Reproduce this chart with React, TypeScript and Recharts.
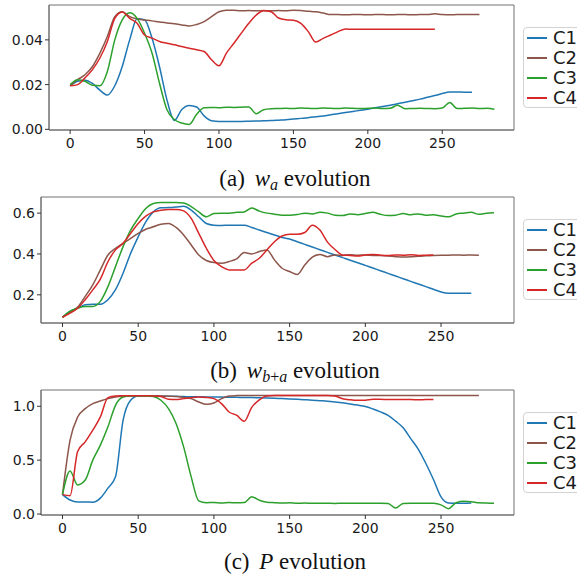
import { LineChart, Line, XAxis, YAxis, ReferenceArea } from 'recharts';

// shared x positions (iteration), every 5 steps
const steps = [
  0, 5, 10, 15, 20, 25, 30, 35, 40, 45, 50, 55, 60, 65, 70, 75, 80, 85, 90, 95,
  100, 105, 110, 115, 120, 125, 130, 135, 140, 145, 150, 155, 160, 165, 170, 175, 180, 185, 190, 195,
  200, 205, 210, 215, 220, 225, 230, 235, 240, 245, 250, 255, 260, 265, 270, 275, 280, 285,
];

const seriesNames = ['C1', 'C2', 'C3', 'C4'];
const seriesColors = ['#1f77b4', '#8c564b', '#2ca02c', '#d62728'];
const xTicks = [0, 50, 100, 150, 200, 250];

// (a) w_a
const waC1 = [
  0.0195, 0.0215, 0.022, 0.0205, 0.0175, 0.0153, 0.0195, 0.0281, 0.04, 0.0495, 0.049, 0.0408, 0.0281, 0.0133, 0.004, 0.0089, 0.0107, 0.01, 0.006, 0.0038,
  0.0035, 0.0035, 0.0035, 0.0035, 0.0036, 0.0037, 0.0038, 0.0039, 0.0041, 0.0043,
  0.0046, 0.0049, 0.0052, 0.0056, 0.006, 0.0065, 0.007, 0.0075, 0.008, 0.0085,
  0.009, 0.0096, 0.0102, 0.0108, 0.0114, 0.0121, 0.0128, 0.0135, 0.0143, 0.0151,
  0.016, 0.0167, 0.0167, 0.0166, 0.0166, null, null, null,
];
const waC2 = [
  0.0195, 0.0222, 0.0244, 0.0281, 0.0341, 0.0415, 0.0504, 0.0526, 0.0504, 0.0493, 0.0489, 0.0485, 0.048, 0.0476, 0.0472, 0.0467, 0.0462, 0.0469, 0.0482, 0.0504,
  0.0526, 0.0533, 0.0532, 0.053, 0.0531, 0.053, 0.0531, 0.053, 0.0531, 0.053,
  0.0532, 0.0531, 0.0528, 0.0526, 0.052, 0.0513, 0.0513, 0.0512, 0.0513, 0.0513,
  0.0512, 0.0513, 0.0513, 0.0512, 0.0513, 0.0513, 0.0512, 0.0513, 0.0513, 0.0517,
  0.0513, 0.0512, 0.0513, 0.0513, 0.0513, 0.0513, null, null,
];
const waC3 = [
  0.02, 0.0222, 0.0215, 0.0197, 0.0195, 0.0259, 0.04, 0.0489, 0.0521, 0.0496, 0.043, 0.0341, 0.0207, 0.0089, 0.0044, 0.0028, 0.0022, 0.0067, 0.0096, 0.0098,
  0.0097, 0.0099, 0.0098, 0.0099, 0.01, 0.007, 0.0088, 0.0092, 0.0093, 0.0094,
  0.0093, 0.0095, 0.0094, 0.0093, 0.0095, 0.0094, 0.0093, 0.0095, 0.0094, 0.0093,
  0.0094, 0.0095, 0.0093, 0.0094, 0.0108, 0.0092, 0.0093, 0.0094, 0.0093, 0.0092,
  0.0095, 0.012, 0.0093, 0.0094, 0.0095, 0.0093, 0.0094, 0.009,
];
const waC4 = [
  0.0195, 0.02, 0.023, 0.0267, 0.0319, 0.0393, 0.0496, 0.0525, 0.0496, 0.0474, 0.0422, 0.0408, 0.0393, 0.0385, 0.0378, 0.037, 0.0363, 0.0356, 0.0348, 0.0311,
  0.0284, 0.0341, 0.0385, 0.043, 0.0474, 0.0511, 0.053, 0.0526, 0.0498, 0.049,
  0.0488, 0.0474, 0.0437, 0.039, 0.0407, 0.0422, 0.0437, 0.0449, 0.0447, 0.0448,
  0.0447, 0.0448, 0.0447, 0.0447, 0.0448, 0.0447, 0.0447, 0.0448, 0.0447, 0.0447,
  null, null, null, null, null, null, null, null,
];

// (b) w_{b+a}
const wbC1 = [
  0.09, 0.119, 0.135, 0.151, 0.154, 0.154, 0.176, 0.225, 0.306, 0.403, 0.484, 0.557, 0.606, 0.626, 0.627, 0.63, 0.634, 0.615, 0.582, 0.549,
  0.541, 0.54, 0.541, 0.541, 0.541, 0.53, 0.517, 0.505, 0.493, 0.481,
  0.473, 0.46, 0.447, 0.434, 0.421, 0.408, 0.395, 0.382, 0.369, 0.357,
  0.344, 0.331, 0.318, 0.305, 0.292, 0.279, 0.266, 0.253, 0.24, 0.227,
  0.214, 0.208, 0.208, 0.208, 0.208, null, null, null,
];
const wbC2 = [
  0.09, 0.115, 0.14, 0.192, 0.249, 0.322, 0.395, 0.428, 0.452, 0.476, 0.501, 0.521, 0.533, 0.546, 0.549, 0.53, 0.493, 0.444, 0.395, 0.368,
  0.358, 0.355, 0.363, 0.376, 0.407, 0.4, 0.412, 0.42, 0.371, 0.33,
  0.314, 0.3, 0.346, 0.385, 0.398, 0.387, 0.395, 0.393, 0.396, 0.394,
  0.395, 0.393, 0.392, 0.39, 0.387, 0.385, 0.386, 0.389, 0.391, 0.393,
  0.394, 0.394, 0.395, 0.394, 0.395, 0.394, null, null,
];
const wbC3 = [
  0.09, 0.12, 0.135, 0.143, 0.143, 0.168, 0.24, 0.338, 0.436, 0.517, 0.574, 0.623, 0.647, 0.652, 0.652, 0.652, 0.65, 0.632, 0.606, 0.582,
  0.598, 0.6, 0.6, 0.604, 0.606, 0.625, 0.61, 0.6, 0.595, 0.59,
  0.59, 0.593, 0.6, 0.596, 0.604, 0.6, 0.59, 0.588, 0.596, 0.592,
  0.598, 0.604, 0.594, 0.588, 0.59, 0.598, 0.592, 0.596, 0.59, 0.592,
  0.586, 0.582, 0.596, 0.6, 0.604, 0.594, 0.6, 0.602,
];
const wbC4 = [
  0.09, 0.11, 0.135, 0.176, 0.224, 0.277, 0.362, 0.42, 0.452, 0.501, 0.549, 0.585, 0.606, 0.614, 0.618, 0.618, 0.611, 0.574, 0.501, 0.428,
  0.368, 0.338, 0.322, 0.322, 0.322, 0.355, 0.379, 0.42, 0.46, 0.488,
  0.496, 0.496, 0.505, 0.541, 0.517, 0.458, 0.422, 0.395, 0.393, 0.39,
  0.395, 0.398, 0.394, 0.392, 0.395, 0.394, 0.396, 0.393, 0.394, 0.395,
  null, null, null, null, null, null, null, null,
];

// (c) P
const pC1 = [
  0.18, 0.13, 0.111, 0.111, 0.11, 0.148, 0.24, 0.345, 0.87, 1.056, 1.096, 1.095, 1.095, 1.094, 1.093, 1.092, 1.09, 1.089, 1.088, 1.087,
  1.086, 1.085, 1.084, 1.083, 1.082, 1.081, 1.079, 1.077, 1.074, 1.071,
  1.068, 1.065, 1.061, 1.057, 1.052, 1.047, 1.04, 1.032, 1.022, 1.011,
  0.998, 0.975, 0.948, 0.915, 0.862, 0.8, 0.7, 0.6, 0.469, 0.32,
  0.16, 0.103, 0.1, 0.1, 0.102, null, null, null,
];
const pC2 = [
  0.18, 0.685, 0.9, 0.978, 1.025, 1.049, 1.071, 1.086, 1.093, 1.096, 1.097, 1.097, 1.096, 1.095, 1.093, 1.09, 1.082, 1.071, 1.04, 1.018,
  1.03, 1.071, 1.096, 1.099, 1.1, 1.1, 1.1, 1.1, 1.1, 1.1,
  1.1, 1.1, 1.1, 1.1, 1.1, 1.1, 1.1, 1.1, 1.1, 1.1,
  1.1, 1.1, 1.1, 1.1, 1.1, 1.1, 1.1, 1.1, 1.1, 1.1,
  1.1, 1.1, 1.1, 1.1, 1.1, 1.1, null, null,
];
const pC3 = [
  0.18, 0.4, 0.27, 0.315, 0.5, 0.639, 0.809, 1.009, 1.086, 1.096, 1.097, 1.096, 1.09, 1.056, 0.978, 0.84, 0.623, 0.345, 0.122, 0.105,
  0.108, 0.102, 0.106, 0.104, 0.107, 0.16, 0.128, 0.11, 0.105, 0.102,
  0.104, 0.1, 0.102, 0.099, 0.101, 0.1, 0.098, 0.101, 0.099, 0.1,
  0.101, 0.099, 0.1, 0.098, 0.055, 0.098, 0.1, 0.099, 0.101, 0.099,
  0.085, 0.05, 0.105, 0.118, 0.115, 0.104, 0.102, 0.1,
];
const pC4 = [
  0.18, 0.17, 0.58, 0.67, 0.778, 0.901, 1.08, 1.095, 1.097, 1.098, 1.098, 1.097, 1.095, 1.09, 1.065, 1.062, 1.071, 1.08, 1.086, 1.082,
  1.071, 1.025, 0.947, 0.917, 0.861, 0.99, 1.06, 1.096, 1.1, 1.1,
  1.1, 1.1, 1.1, 1.1, 1.1, 1.1, 1.095, 1.07, 1.06, 1.055,
  1.056, 1.065, 1.065, 1.062, 1.063, 1.062, 1.062, 1.061, 1.062, 1.062,
  null, null, null, null, null, null, null, null,
];

const X_DOMAIN: [number, number] = [-14.2, 298.2];
const FRAME = '#707070';
const TICK_FONT = { fontFamily: 'DejaVu Sans', fontSize: 14, fill: '#1a1a1a' };

function buildRows(series: (number | null)[][]) {
  return steps.map((t, i) => {
    const row: any = { t };
    series.forEach((s, k) => {
      row['c' + (k + 1)] = s[i];
    });
    return row;
  });
}

interface PanelProps {
  rows: any[];
  top: number;
  height: number;
  marginTop: number;
  yWidth: number;
  yDomain: [number, number];
  yTicks: number[];
  digits: number;
}

function Panel({ rows, top, height, marginTop, yWidth, yDomain, yTicks, digits }: PanelProps) {
  return (
    <div style={{ position: 'absolute', left: 0, top }}>
      <LineChart width={520} height={height} data={rows} margin={{ top: marginTop, right: 6, bottom: 0, left: 0 }}>
        <ReferenceArea
          x1={X_DOMAIN[0]}
          x2={X_DOMAIN[1]}
          y1={yDomain[0]}
          y2={yDomain[1]}
          fill="none"
          stroke={FRAME}
          strokeWidth={1}
          ifOverflow="visible"
        />
        <XAxis
          dataKey="t"
          type="number"
          domain={X_DOMAIN}
          allowDataOverflow
          ticks={xTicks}
          interval={0}
          height={30}
          tickSize={4}
          tickMargin={4}
          tick={TICK_FONT}
          axisLine={{ stroke: FRAME }}
          tickLine={{ stroke: '#333' }}
        />
        <YAxis
          type="number"
          domain={yDomain}
          allowDataOverflow
          ticks={yTicks}
          interval={0}
          width={yWidth}
          tickSize={4}
          tickMargin={2}
          tick={TICK_FONT}
          tickFormatter={(v: number) => v.toFixed(digits)}
          axisLine={{ stroke: FRAME }}
          tickLine={{ stroke: '#333' }}
        />
        {seriesNames.map((name, k) => (
          <Line
            key={name}
            type="monotone"
            dataKey={'c' + (k + 1)}
            name={name}
            stroke={seriesColors[k]}
            strokeWidth={1.5}
            dot={false}
            activeDot={false}
            isAnimationActive={false}
          />
        ))}
      </LineChart>
    </div>
  );
}

function LegendBox({ top }: { top: number }) {
  return (
    <div
      style={{
        position: 'absolute',
        left: 523,
        top,
        width: 80,
        height: 81,
        border: '1px solid #d3d3d3',
        borderRadius: 4,
        background: '#fff',
        boxSizing: 'border-box',
      }}
    >
      {seriesNames.map((name, k) => (
        <div key={name} style={{ position: 'absolute', left: 0, top: k * 20, height: 20, width: 80 }}>
          <div
            style={{
              position: 'absolute',
              left: 3,
              top: 9,
              width: 20,
              height: 1.6,
              background: seriesColors[k],
            }}
          />
          <span
            style={{
              position: 'absolute',
              left: 29,
              top: -1,
              fontFamily: 'DejaVu Sans',
              fontSize: 18,
              lineHeight: '21px',
              color: '#1a1a1a',
            }}
          >
            {name}
          </span>
        </div>
      ))}
    </div>
  );
}

const captionStyle = { fontFamily: 'Liberation Serif', fontSize: 23, fill: '#111' };

export default function App() {
  const rowsA = buildRows([waC1, waC2, waC3, waC4]);
  const rowsB = buildRows([wbC1, wbC2, wbC3, wbC4]);
  const rowsC = buildRows([pC1, pC2, pC3, pC4]);

  return (
    <div style={{ position: 'absolute', left: 0, top: 0, width: 577, height: 577, overflow: 'hidden', background: '#fff' }}>
      <Panel rows={rowsA} top={0} height={160} marginTop={5} yWidth={49} yDomain={[-0.0003, 0.0556]} yTicks={[0, 0.02, 0.04]} digits={2} />
      <Panel rows={rowsB} top={190} height={163} marginTop={7} yWidth={41} yDomain={[0.062, 0.679]} yTicks={[0.2, 0.4, 0.6]} digits={1} />
      <Panel rows={rowsC} top={380} height={165} marginTop={10} yWidth={41} yDomain={[-0.009, 1.151]} yTicks={[0, 0.5, 1]} digits={1} />

      <LegendBox top={27} />
      <LegendBox top={219} />
      <LegendBox top={412} />

      <svg width={577} height={577} style={{ position: 'absolute', left: 0, top: 0, pointerEvents: 'none' }}>
        <text x={295} y={186} textAnchor="middle" style={captionStyle}>
          (a)
          <tspan dx={4} fontStyle="italic"> w</tspan>
          <tspan fontStyle="italic" fontSize={16} dy={4}>a</tspan>
          <tspan dy={-4}> evolution</tspan>
        </text>
        <text x={295} y={378} textAnchor="middle" style={captionStyle}>
          (b)
          <tspan dx={4} fontStyle="italic"> w</tspan>
          <tspan fontSize={16} dy={4}>
            <tspan fontStyle="italic">b</tspan>+<tspan fontStyle="italic">a</tspan>
          </tspan>
          <tspan dy={-4}> evolution</tspan>
        </text>
        <text x={295} y={569} textAnchor="middle" style={captionStyle}>
          (c)
          <tspan dx={4} fontStyle="italic"> P</tspan>
          <tspan> evolution</tspan>
        </text>
      </svg>
    </div>
  );
}
